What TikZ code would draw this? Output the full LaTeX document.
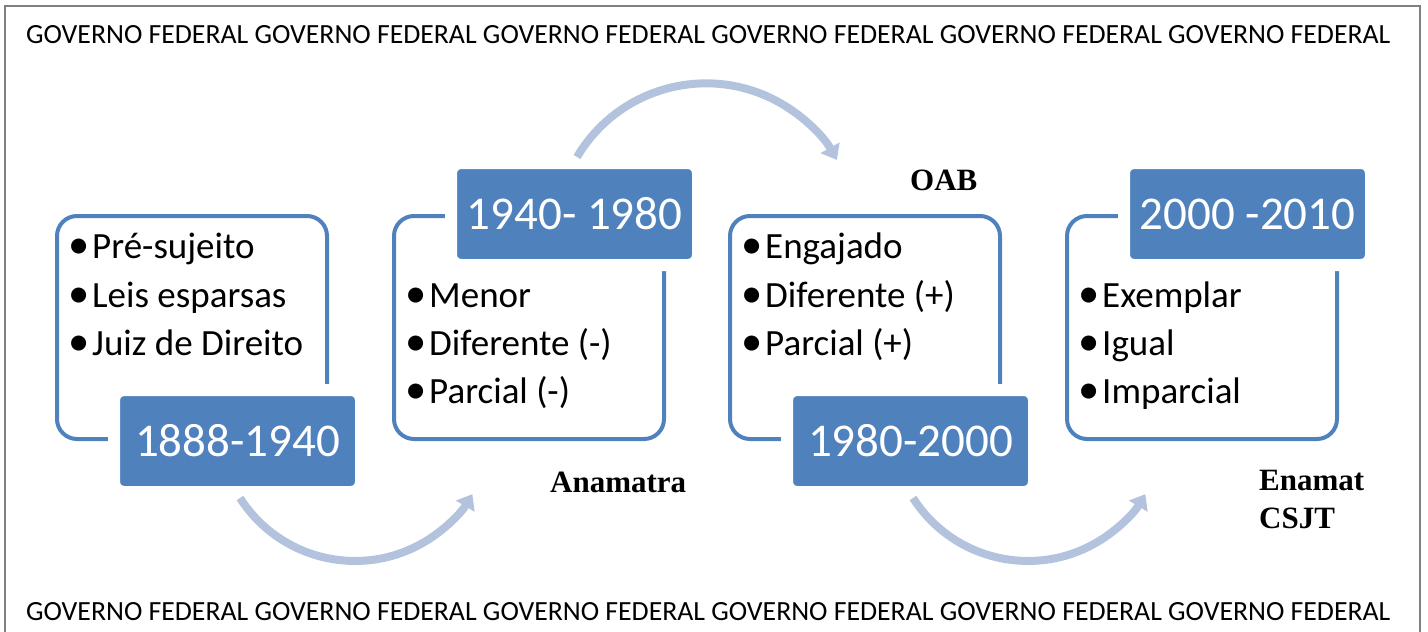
\documentclass[tikz,border=0pt]{standalone}
\usepackage{fontspec}
\setmainfont{Carlito}
\newfontfamily\labelfont{Liberation Serif}
\usetikzlibrary{arrows.meta,positioning}
\definecolor{boxblue}{HTML}{4F81BD}
\definecolor{flowblue}{HTML}{B3C3DE}
\definecolor{framegray}{HTML}{808080}
\newcommand{\itm}[1]{\hspace{1pt}\makebox[14pt][c]{\raisebox{-0.3pt}{\scalebox{1.15}{\textbullet}}}\hspace{6pt}#1}
\tikzset{
% outlined period box and the filled date tab on it
period box/.style={rectangle,draw=boxblue,line width=4pt,rounded corners=20pt,minimum width=270pt,minimum height=223pt},
date box/.style={rectangle,fill=boxblue,draw=white,line width=12pt,rounded corners=10pt,minimum width=247pt,minimum height=102pt,text=white,font=\fontsize{47}{50}\selectfont},
item/.style={anchor=base west,inner sep=0,font=\fontsize{37}{40}\selectfont},
org/.style={anchor=base west,inner sep=0,font=\labelfont\bfseries\fontsize{31}{34}\selectfont},
banner/.style={anchor=base west,inner sep=0,font=\fontsize{27.75}{30}\selectfont},
flow/.style={draw=flowblue,line width=8pt,-{Triangle[length=14pt,width=21pt]}}
}
\begin{document}
\begin{tikzpicture}[x=1pt,y=1pt]
\useasboundingbox (0,0) rectangle (1428,-632);
% page frame
\draw[framegray,line width=2pt] (5,-632) -- (5,-6) -- (1420,-6) -- (1420,-632);
\node[banner] (top) at (26,-43) {GOVERNO FEDERAL GOVERNO FEDERAL GOVERNO FEDERAL GOVERNO FEDERAL GOVERNO FEDERAL GOVERNO FEDERAL};
\node[banner] (bottom) at (26,-620) {GOVERNO FEDERAL GOVERNO FEDERAL GOVERNO FEDERAL GOVERNO FEDERAL GOVERNO FEDERAL GOVERNO FEDERAL};
% The periods
\node[period box] (b1) at (192,-327.5) {};
\node[period box] (b2) at (529,-327.5) {};
\node[period box] (b3) at (865,-327.5) {};
\node[period box] (b4) at (1202,-327.5) {};
\node[date box] (d1) at ([xshift=45.5pt]b1.south) {1888-1940};
\node[date box] (d2) at ([xshift=45.5pt]b2.north) {1940- 1980};
\node[date box] (d3) at ([xshift=45.5pt]b3.south) {1980-2000};
\node[date box] (d4) at ([xshift=45.5pt]b4.north) {2000 -2010};
% items
\node[item] (i11) at (71,-258) {\itm{Pré-sujeito}};
\node[item] (i12) at (71,-307) {\itm{Leis esparsas}};
\node[item] (i13) at (71,-355) {\itm{Juiz de Direito}};
\node[item] (i21) at (408,-307) {\itm{Menor}};
\node[item] (i22) at (408,-355) {\itm{Diferente (-)}};
\node[item] (i23) at (408,-403) {\itm{Parcial (-)}};
\node[item] (i31) at (744,-258) {\itm{Engajado}};
\node[item] (i32) at (744,-307) {\itm{Diferente (+)}};
\node[item] (i33) at (744,-355) {\itm{Parcial (+)}};
\node[item] (i41) at (1081,-307) {\itm{Exemplar}};
\node[item] (i42) at (1081,-355) {\itm{Igual}};
\node[item] (i43) at (1081,-403) {\itm{Imparcial}};
% bodies
\node[org] (oab) at (910,-190) {OAB};
\node[org] (anamatra) at (550,-492) {Anamatra};
\node[org] (enamat) at (1259,-490) {Enamat};
\node[org] (csjt) at (1259,-528) {CSJT};
% transitions
\draw[flow] ([xshift=2.5pt]d1.south) arc[start angle=212.6,end angle=329.3,radius=136.5];
\draw[flow] ([xshift=2.5pt]d2.north) arc[start angle=149.4,end angle=29.3,radius=150];
\draw[flow] ([xshift=2.5pt]d3.south) arc[start angle=212.6,end angle=329.3,radius=136.5];
\end{tikzpicture}
\end{document}
